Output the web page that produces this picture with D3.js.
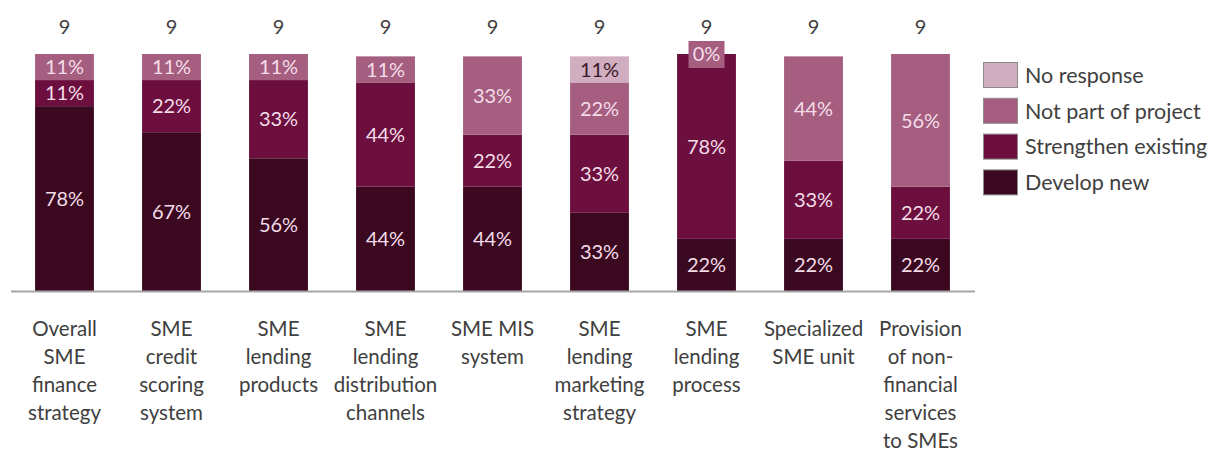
<!DOCTYPE html>
<html>
<head>
<meta charset="utf-8">
<script src="https://cdn.jsdelivr.net/npm/d3@7"></script>
<style>
  body { margin: 0; background: #fff; }
  svg { display: block; font-family: Lato, "Open Sans", sans-serif; }
</style>
</head>
<body>
<svg width="1212" height="452"></svg>
<script>
'use strict';

// categories, one array of lines per bar
const categories = [
    ["Overall", "SME", "finance", "strategy"],
    ["SME", "credit", "scoring", "system"],
    ["SME", "lending", "products"],
    ["SME", "lending", "distribution", "channels"],
    ["SME MIS", "system"],
    ["SME", "lending", "marketing", "strategy"],
    ["SME", "lending", "process"],
    ["Specialized", "SME unit"],
    ["Provision", "of non-", "financial", "services", "to SMEs"]
];
const counts = [9, 9, 9, 9, 9, 9, 9, 9, 9];

// series, bottom to top (null = no segment, no label)
const seriesNames = ["Develop new", "Strengthen existing", "Not part of project", "No response"];
const developNew   = [78, 67, 56, 44, 44, 33, 22, 22, 22];
const strengthen   = [11, 22, 33, 44, 22, 33, 78, 33, 22];
const notPart      = [11, 11, 11, 11, 33, 22, 0, 44, 56];
const noResponse   = [null, null, null, null, null, 11, null, null, null];

const colors = ["#3a0920", "#6c0e3e", "#a55e7f", "#d0adbf"];
const labelColors = ["#f4dde9", "#f4dde9", "#f4dde9", "#3a1a28"];

const svg = d3.select("svg");

const keys = categories.map((c, i) => "c" + i);
const table = keys.map((k, i) => ({
    key: k, i,
    s0: developNew[i], s1: strengthen[i], s2: notPart[i], s3: noResponse[i]
}));
const stack = d3.stack()
    .keys(["s0", "s1", "s2", "s3"])
    .value((d, k) => d[k] || 0);
const stacked = stack(table);

const x = d3.scaleBand()
    .domain(keys)
    .range([11, 974])
    .paddingInner(0.45)
    .paddingOuter(0.225);
const y = d3.scaleLinear().domain([0, 100]).range([291, 54]);

// bars
const layers = svg.append("g").selectAll("g")
    .data(stacked)
    .join("g")
    .attr("fill", (d, i) => colors[i]);

layers.selectAll("rect")
    .data(d => d)
    .join("rect")
    .attr("x", d => x(d.data.key))
    .attr("width", x.bandwidth())
    .attr("y", d => y(d[1]))
    .attr("height", d => y(d[0]) - y(d[1]));

// axis line
svg.append("line")
    .attr("x1", x.range()[0]).attr("x2", x.range()[1] + 1)
    .attr("y1", y(0) + 0.5).attr("y2", y(0) + 0.5)
    .attr("stroke", "#a6a6a6").attr("stroke-width", 2);

// segment labels
const series = [developNew, strengthen, notPart, noResponse];
stacked.forEach((layer, si) => {
    const g = svg.append("g");
    layer.forEach((d, i) => {
        const v = series[si][i];
        if (v === null) return;
        const cx = x(d.data.key) + x.bandwidth() / 2;
        const cy = (y(d[0]) + y(d[1])) / 2;
        if (v === 0) {
            g.append("rect")
                .attr("x", cx - 18).attr("y", cy - 13)
                .attr("width", 36).attr("height", 27)
                .attr("fill", colors[si]);
        }
        g.append("text")
            .attr("x", cx).attr("y", cy)
            .attr("dy", "0.36em")
            .attr("text-anchor", "middle")
            .attr("font-size", 20)
            .attr("fill", labelColors[si])
            .text(v + "%");
    });
});

// count labels on top
svg.append("g").selectAll("text")
    .data(counts)
    .join("text")
    .attr("x", (d, i) => x(keys[i]) + x.bandwidth() / 2)
    .attr("y", 27)
    .attr("dy", "0.36em")
    .attr("text-anchor", "middle")
    .attr("font-size", 20)
    .attr("fill", "#404040")
    .text(d => d);

// category labels
const cat = svg.append("g").selectAll("text")
    .data(categories)
    .join("text")
    .attr("text-anchor", "middle")
    .attr("font-size", 20.5)
    .attr("fill", "#404040")
    .attr("transform", (d, i) => `translate(${x(keys[i]) + x.bandwidth() / 2},329)`);
cat.selectAll("tspan")
    .data(d => d)
    .join("tspan")
    .attr("x", 0)
    .attr("y", (d, j) => j * 27.8)
    .attr("dy", "0.36em")
    .text(d => d);

// legend, top to bottom
const legendOrder = [3, 2, 1, 0];
const legend = svg.append("g").attr("transform", "translate(983,62)")
    .selectAll("g")
    .data(legendOrder)
    .join("g")
    .attr("transform", (d, i) => `translate(0,${i * 35.8})`);
legend.append("rect")
    .attr("x", 0.5).attr("y", 0.5)
    .attr("width", 34).attr("height", 25)
    .attr("fill", d => colors[d])
    .attr("stroke", "#8c8c8c").attr("stroke-width", 1);
legend.append("text")
    .attr("x", 42).attr("y", 13)
    .attr("dy", "0.36em")
    .attr("font-size", 21.5)
    .attr("fill", "#404040")
    .text(d => seriesNames[d]);
</script>
</body>
</html>
